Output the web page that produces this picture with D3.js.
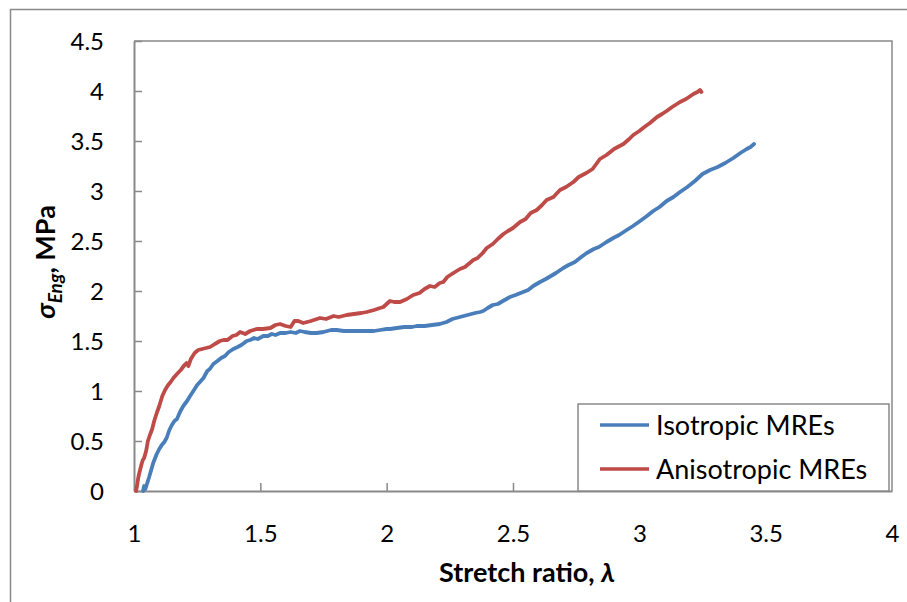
<!DOCTYPE html>
<html>
<head>
<meta charset="utf-8">
<script src="https://cdn.jsdelivr.net/npm/d3@7"></script>
<style>
  html, body { margin: 0; padding: 0; background: #fff; }
  svg text { font-family: Lato, "Open Sans", sans-serif; fill: #000; }
</style>
</head>
<body>
<svg id="chart" width="907" height="602"></svg>
<script>
// Stretch ratio (lambda) and engineering stress (MPa) for each specimen
const isoLambda = [1.036,1.040,1.045,1.050,1.060,1.076,1.090,1.100,1.110,1.120,1.129,1.140,1.150,1.160,1.170,1.182,1.195,1.210,1.222,1.235,1.250,1.261,1.275,1.290,1.300,1.314,1.330,1.345,1.360,1.375,1.393,1.410,1.425,1.446,1.460,1.475,1.490,1.512,1.530,1.545,1.560,1.578,1.600,1.620,1.640,1.657,1.675,1.700,1.723,1.750,1.780,1.802,1.830,1.860,1.890,1.921,1.950,1.974,2.000,2.013,2.040,2.070,2.100,2.119,2.150,2.180,2.210,2.237,2.260,2.290,2.320,2.350,2.370,2.382,2.400,2.420,2.440,2.460,2.488,2.510,2.530,2.560,2.580,2.607,2.630,2.650,2.670,2.699,2.720,2.745,2.770,2.792,2.820,2.840,2.870,2.897,2.920,2.950,2.975,3.003,3.030,3.055,3.080,3.108,3.135,3.161,3.190,3.220,3.250,3.280,3.310,3.340,3.372,3.400,3.425,3.440,3.454];
const isoStress = [0.00,0.05,0.02,0.06,0.14,0.28,0.37,0.42,0.46,0.49,0.53,0.61,0.66,0.70,0.72,0.79,0.85,0.90,0.95,1.00,1.06,1.09,1.13,1.20,1.22,1.27,1.30,1.33,1.35,1.39,1.42,1.44,1.46,1.50,1.51,1.53,1.52,1.55,1.55,1.57,1.56,1.58,1.58,1.59,1.58,1.60,1.59,1.58,1.58,1.59,1.61,1.61,1.60,1.60,1.60,1.60,1.60,1.61,1.62,1.62,1.63,1.64,1.64,1.65,1.65,1.66,1.67,1.69,1.72,1.74,1.76,1.78,1.79,1.80,1.83,1.86,1.87,1.90,1.94,1.96,1.98,2.01,2.05,2.09,2.12,2.15,2.18,2.23,2.26,2.29,2.34,2.38,2.42,2.44,2.49,2.53,2.56,2.61,2.65,2.70,2.75,2.80,2.84,2.90,2.94,2.99,3.04,3.10,3.17,3.21,3.24,3.28,3.33,3.38,3.42,3.44,3.47];

const anisoLambda = [1.008,1.012,1.016,1.020,1.024,1.030,1.035,1.040,1.048,1.055,1.063,1.072,1.080,1.090,1.100,1.112,1.123,1.135,1.145,1.156,1.170,1.185,1.200,1.208,1.215,1.225,1.240,1.254,1.270,1.285,1.301,1.320,1.340,1.354,1.370,1.390,1.405,1.420,1.440,1.460,1.486,1.510,1.540,1.560,1.578,1.600,1.620,1.635,1.650,1.670,1.700,1.736,1.760,1.790,1.810,1.842,1.870,1.900,1.921,1.950,1.974,1.987,2.000,2.013,2.030,2.053,2.080,2.105,2.130,2.150,2.171,2.190,2.210,2.224,2.240,2.264,2.290,2.310,2.343,2.360,2.380,2.396,2.420,2.440,2.462,2.480,2.500,2.528,2.550,2.570,2.594,2.615,2.633,2.660,2.686,2.710,2.739,2.760,2.790,2.815,2.844,2.870,2.900,2.937,2.960,2.976,3.000,3.020,3.042,3.070,3.090,3.108,3.130,3.161,3.185,3.214,3.230,3.240,3.246];
const anisoStress = [0.00,0.05,0.12,0.17,0.21,0.27,0.31,0.33,0.40,0.50,0.56,0.62,0.70,0.78,0.85,0.95,1.01,1.06,1.09,1.13,1.17,1.21,1.26,1.28,1.25,1.32,1.38,1.41,1.42,1.43,1.44,1.47,1.50,1.51,1.51,1.55,1.56,1.59,1.57,1.60,1.62,1.62,1.63,1.66,1.67,1.65,1.64,1.70,1.70,1.68,1.70,1.73,1.72,1.75,1.74,1.76,1.77,1.78,1.79,1.81,1.83,1.84,1.87,1.90,1.89,1.89,1.92,1.96,1.98,2.02,2.05,2.04,2.08,2.09,2.14,2.18,2.22,2.24,2.31,2.33,2.38,2.43,2.47,2.52,2.57,2.60,2.63,2.69,2.72,2.78,2.81,2.86,2.91,2.94,3.01,3.04,3.09,3.14,3.18,3.22,3.32,3.36,3.42,3.47,3.52,3.56,3.60,3.64,3.68,3.74,3.77,3.80,3.84,3.89,3.92,3.97,3.99,4.01,3.99];

const xTicks = [1, 1.5, 2, 2.5, 3, 3.5, 4];
const yTicks = [0, 0.5, 1, 1.5, 2, 2.5, 3, 3.5, 4, 4.5];
const seriesNames = ["Isotropic MREs", "Anisotropic MREs"];
const seriesColors = ["#4A7EBB", "#BE4B48"];

const svg = d3.select("#chart");
const frame = "#898989";

// outer chart border
svg.append("rect")
  .attr("x", 10.5).attr("y", 9.5)
  .attr("width", 1000).attr("height", 1000)
  .attr("fill", "none").attr("stroke", frame).attr("stroke-width", 1.5);

const plot = { left: 134, top: 41, right: 892, bottom: 491 };
const x = d3.scaleLinear().domain([1, 4]).range([plot.left, plot.right]);
const y = d3.scaleLinear().domain([0, 4.5]).range([plot.bottom, plot.top]);

// plot area frame (top and right sides)
svg.append("path")
  .attr("d", `M${plot.left},${plot.top}H${plot.right}V${plot.bottom}`)
  .attr("fill", "none").attr("stroke", frame).attr("stroke-width", 1.5);

// axes with inward tick marks
const xAxis = svg.append("g")
  .attr("transform", `translate(0,${plot.bottom})`)
  .call(d3.axisBottom(x).tickValues(xTicks).tickSizeInner(-8).tickSizeOuter(0)
    .tickFormat(d3.format("~g")));
const yAxis = svg.append("g")
  .attr("transform", `translate(${plot.left},0)`)
  .call(d3.axisLeft(y).tickValues(yTicks).tickSizeInner(-8).tickSizeOuter(0)
    .tickFormat(d3.format("~g")));

[xAxis, yAxis].forEach(g => {
  g.select(".domain").attr("stroke", frame).attr("stroke-width", 2);
  g.selectAll(".tick line").attr("stroke", frame).attr("stroke-width", 1.5);
  g.selectAll(".tick text").attr("font-size", 24).attr("fill", "#000")
    .style("font-family", "Lato, 'Open Sans', sans-serif");
});
xAxis.selectAll(".tick text").attr("y", 34);
yAxis.selectAll(".tick text").attr("x", -30).attr("dy", "0.36em");
xAxis.selectAll(".tick").filter(d => d === 1 || d === 4).select("line").remove();

// curves
const line = d3.line().x(d => x(d[0])).y(d => y(d[1]));
const series = [
  d3.zip(isoLambda, isoStress),
  d3.zip(anisoLambda, anisoStress)
];
series.forEach((pts, i) => {
  svg.append("path")
    .datum(pts)
    .attr("d", line)
    .attr("fill", "none")
    .attr("stroke", seriesColors[i])
    .attr("stroke-width", 3.8)
    .attr("stroke-linejoin", "round")
    .attr("stroke-linecap", "round");
});

// legend
const lg = svg.append("g");
lg.append("rect")
  .attr("x", 578).attr("y", 404).attr("width", 311).attr("height", 87)
  .attr("fill", "#fff").attr("stroke", frame).attr("stroke-width", 1.5);
seriesNames.forEach((name, i) => {
  const ly = 425 + i * 44;
  lg.append("line")
    .attr("x1", 600).attr("x2", 649).attr("y1", ly).attr("y2", ly)
    .attr("stroke", seriesColors[i]).attr("stroke-width", 3.5);
  lg.append("text")
    .attr("x", 656).attr("y", ly).attr("dy", "0.36em")
    .attr("font-size", 27)
    .text(name);
});

// axis titles
svg.append("text")
  .attr("x", 527).attr("y", 582)
  .attr("text-anchor", "middle")
  .attr("font-size", 27).attr("font-weight", "bold")
  .text("Stretch ratio, ")
  .append("tspan").attr("font-style", "italic").text("λ");

const yt = svg.append("text")
  .attr("transform", "translate(55,262) rotate(-90)")
  .attr("text-anchor", "middle")
  .attr("font-size", 27).attr("font-weight", "bold");
yt.append("tspan").attr("font-style", "italic").text("σ");
yt.append("tspan").attr("font-style", "italic").attr("font-size", 19).attr("dy", 7).text("Eng");
yt.append("tspan").attr("dy", -7).text(", MPa");
</script>
</body>
</html>
